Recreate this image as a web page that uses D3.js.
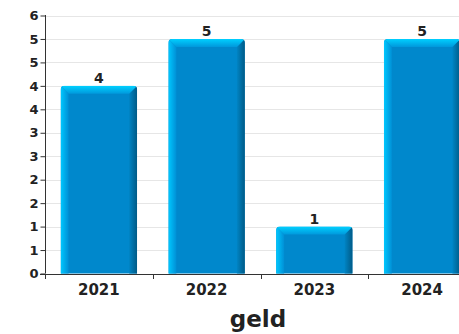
<!DOCTYPE html>
<html>
<head>
<meta charset="utf-8">
<script src="https://cdn.jsdelivr.net/npm/d3@7"></script>
<style>
  html, body { margin: 0; padding: 0; background: #fff; }
  svg { display: block; }
  text { font-family: "DejaVu Sans", sans-serif; font-weight: bold; fill: #222; }
</style>
</head>
<body>
<svg id="chart" width="459" height="334"></svg>
<script>
const categories = ["2021", "2022", "2023", "2024"];
const values = [4, 5, 1, 5];
const valueLabels = ["4", "5", "1", "5"];
const yTicks = [0, 0.5, 1, 1.5, 2, 2.5, 3, 3.5, 4, 4.5, 5, 5.5];
const yTickLabels = ["0", "1", "1", "2", "2", "3", "3", "4", "4", "5", "5", "6"];
const yMax = 5.5;
const title = "geld";

const W = 459, H = 334;
const plotL = 45, plotR = 476, plotT = 15.5, plotB = 273.5;

const svg = d3.select("#chart");
const x = d3.scaleBand().domain(categories).range([plotL, plotR])
  .paddingInner(0.29).paddingOuter(0.145);
const y = d3.scaleLinear().domain([0, yMax]).range([plotB, plotT]);

const defs = svg.append("defs");
const gl = defs.append("linearGradient").attr("id", "gLeft").attr("x1", "0").attr("x2", "1").attr("y1", "0").attr("y2", "0");
gl.append("stop").attr("offset", "0").attr("stop-color", "#00c8ff");
gl.append("stop").attr("offset", "1").attr("stop-color", "#0090d6");
const gr = defs.append("linearGradient").attr("id", "gRight").attr("x1", "0").attr("x2", "1").attr("y1", "0").attr("y2", "0");
gr.append("stop").attr("offset", "0").attr("stop-color", "#0084c4");
gr.append("stop").attr("offset", "1").attr("stop-color", "#005a86");
const gt = defs.append("linearGradient").attr("id", "gTop").attr("x1", "0").attr("x2", "0").attr("y1", "0").attr("y2", "1");
gt.append("stop").attr("offset", "0").attr("stop-color", "#00d0ff");
gt.append("stop").attr("offset", "1").attr("stop-color", "#0098dc");

// gridlines
svg.append("g").selectAll("line").data(yTicks.filter(d => d > 0)).join("line")
  .attr("x1", plotL).attr("x2", W)
  .attr("y1", d => Math.round(y(d)) + 0.5).attr("y2", d => Math.round(y(d)) + 0.5)
  .attr("stroke", "#e6e6e6").attr("stroke-width", 1);

// bars
const bw = x.bandwidth();
const bev = 8;
const bars = svg.append("g").selectAll("g").data(categories).join("g");
bars.each(function(c, i) {
  const g = d3.select(this);
  const x0 = x(c), x1 = x0 + bw, y0 = y(values[i]), y1 = y(0);
  const cid = "clip" + i;
  defs.append("clipPath").attr("id", cid).append("rect")
    .attr("x", x0).attr("y", y0).attr("width", bw).attr("height", (y1 - y0) + 6)
    .attr("rx", 4).attr("ry", 4);
  const gg = g.append("g").attr("clip-path", `url(#${cid})`);
  gg.append("rect").attr("x", x0).attr("y", y0).attr("width", bw).attr("height", y1 - y0).attr("fill", "#0088cc");
  gg.append("polygon").attr("points", [[x0, y0], [x0 + bev, y0 + bev], [x0 + bev, y1], [x0, y1]].join(" ")).attr("fill", "url(#gLeft)");
  gg.append("polygon").attr("points", [[x1, y0], [x1 - bev, y0 + bev], [x1 - bev, y1], [x1, y1]].join(" ")).attr("fill", "url(#gRight)");
  gg.append("polygon").attr("points", [[x0, y0], [x1, y0], [x1 - bev, y0 + bev], [x0 + bev, y0 + bev]].join(" ")).attr("fill", "url(#gTop)");
  g.append("text").attr("x", x0 + bw / 2).attr("y", y0 - 2.5).attr("text-anchor", "middle")
    .attr("font-size", 14).text(valueLabels[i]);
});

// y axis
const yAxis = d3.axisLeft(y).tickValues(yTicks).tickFormat((d, i) => yTickLabels[i]).tickSize(5).tickSizeOuter(0);
const ya = svg.append("g").attr("transform", `translate(${plotL + 0.5},0)`).call(yAxis);
ya.select(".domain").attr("stroke", "#333").attr("d", `M0,${plotT - 0.5}V${plotB}`);
ya.selectAll(".tick line").attr("stroke", "#333");
ya.selectAll(".tick text").attr("font-size", 13).attr("font-family", "DejaVu Sans").attr("font-weight", "bold").attr("fill", "#222").attr("x", -7);

// x axis
const xa = svg.append("g");
xa.append("line").attr("x1", plotL - 5).attr("x2", W).attr("y1", Math.round(plotB) + 0.5).attr("y2", Math.round(plotB) + 0.5).attr("stroke", "#333");
const bounds = categories.map(c => x(c) - (x.step() - bw) / 2);
xa.selectAll("line.tk").data(bounds).join("line").attr("class", "tk")
  .attr("x1", d => Math.round(d) + 0.5).attr("x2", d => Math.round(d) + 0.5)
  .attr("y1", Math.round(plotB)).attr("y2", Math.round(plotB) + 5).attr("stroke", "#333");
xa.selectAll("text").data(categories).join("text")
  .attr("x", c => x(c) + bw / 2).attr("y", 294.5).attr("text-anchor", "middle")
  .attr("font-size", 15).text(c => c);

// title
svg.append("text").attr("x", 258).attr("y", 326.5).attr("text-anchor", "middle")
  .attr("font-size", 23).text(title);
</script>
</body>
</html>
